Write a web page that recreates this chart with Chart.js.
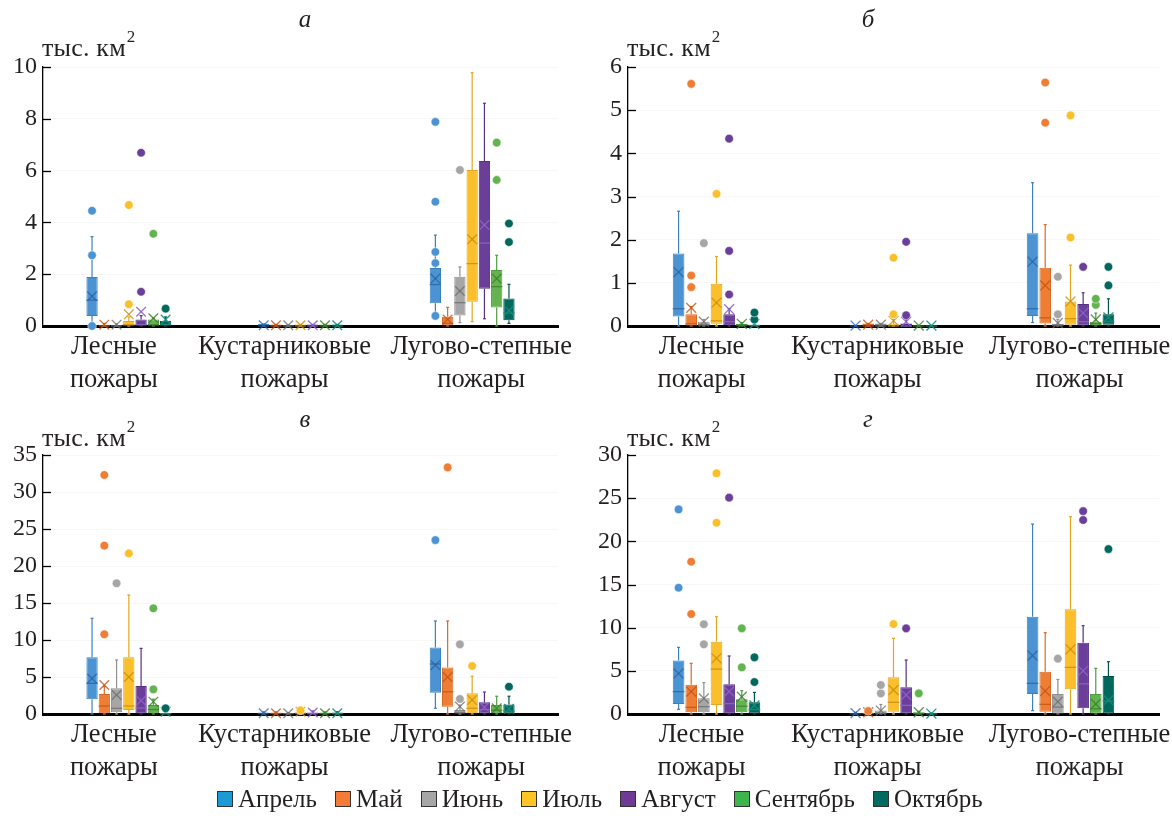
<!DOCTYPE html>
<html><head><meta charset="utf-8">
<script src="https://cdn.jsdelivr.net/npm/chart.js@4.4.1/dist/chart.umd.min.js"></script>
<style>
body{margin:0;background:#fff;width:1172px;height:816px;position:relative;overflow:hidden;font-family:"Liberation Serif","Times New Roman",serif;color:#231f20}
.pan{position:absolute}
.ttl{position:absolute;font-style:italic;font-size:25px;transform:translateX(-50%)}
.unit{position:absolute;font-size:26px;white-space:nowrap;letter-spacing:0.2px}
.unit sup{font-size:17px;vertical-align:top;position:relative;top:-6px;margin-left:1px}
#legend{position:absolute;left:217px;top:785px;display:flex;font-size:25px;white-space:nowrap}
.li{display:flex;align-items:center;margin-right:18px}
.sw{width:16px;height:16px;border:1px solid #333;margin-right:5px;box-sizing:border-box}
</style></head><body>
<div class="pan" style="left:0;top:0"><canvas id="cA" width="586" height="400"></canvas></div>
<div class="pan" style="left:585px;top:0"><canvas id="cB" width="587" height="400"></canvas></div>
<div class="pan" style="left:0;top:390px"><canvas id="cC" width="586" height="400"></canvas></div>
<div class="pan" style="left:585px;top:390px"><canvas id="cD" width="587" height="400"></canvas></div>
<div class="ttl" style="left:305px;top:5px">а</div>
<div class="ttl" style="left:868px;top:5px">б</div>
<div class="ttl" style="left:305px;top:405px">в</div>
<div class="ttl" style="left:868px;top:405px">г</div>
<div class="unit" style="left:42px;top:33px">тыс. км<sup>2</sup></div>
<div class="unit" style="left:627px;top:33px">тыс. км<sup>2</sup></div>
<div class="unit" style="left:42px;top:423px">тыс. км<sup>2</sup></div>
<div class="unit" style="left:627px;top:423px">тыс. км<sup>2</sup></div>
<div id="legend"></div>
<script>
// ---------- data ----------
const months = ['Апрель','Май','Июнь','Июль','Август','Сентябрь','Октябрь'];
const categories = [['Лесные','пожары'],['Кустарниковые','пожары'],['Лугово-степные','пожары']];
const ticksA = [0,2,4,6,8,10];
const ticksB = [0,1,2,3,4,5,6];
const ticksC = [0,5,10,15,20,25,30,35];
const ticksD = [0,5,10,15,20,25,30];

// rows = months, columns = categories
// panel а
const aLow  = [[0,0,0.39],[0,0,0],[0,0,0.13],[0,0,0.17],[0,0,0.28],[0,0,0],[0,0,0.1]];
const aQ1   = [[0.39,0,0.88],[0,0,0.03],[0,0,0.41],[0,0,0.94],[0,0,1.44],[0,0,0.71],[0,0,0.22]];
const aMed  = [[1.0,0,1.6],[0,0,0.1],[0,0,0.9],[0.05,0,2.41],[0.05,0,3.2],[0.05,0,1.52],[0.05,0,0.5]];
const aQ3   = [[1.89,0.08,2.24],[0.05,0.06,0.36],[0.04,0.04,1.9],[0.19,0.06,6.02],[0.25,0.06,6.37],[0.25,0.06,2.16],[0.2,0.06,1.06]];
const aHigh = [[3.45,0.08,3.51],[0.1,0.06,0.72],[0.08,0.04,2.28],[0.35,0.06,9.78],[0.4,0.06,8.6],[0.3,0.06,2.73],[0.35,0.06,1.61]];
const aMean = [[1.15,0.03,1.83],[0.05,0.03,0.25],[0.05,0.03,1.35],[0.45,0.03,3.35],[0.55,0.03,3.9],[0.3,0.03,1.83],[0.25,0.03,0.6]];
const aOut  = [[[0,2.73,4.45],[],[0.39,2.43,2.86,4.8,7.88]],[[],[],[]],[[],[],[6.02]],[[0.84,4.67],[],[]],[[1.32,6.69],[],[]],[[3.56],[],[5.64,7.08]],[[0.67],[],[3.24,3.96]]];
// panel б
const bLow  = [[0,0,0.08],[0,0,0],[0,0,0],[0,0,0],[0,0,0],[0,0,0],[0,0,0]];
const bQ1   = [[0.22,0,0.23],[0,0,0.06],[0,0,0],[0.05,0,0.03],[0.02,0,0],[0,0,0],[0,0,0.03]];
const bMed  = [[0.4,0,0.4],[0.05,0,0.19],[0.03,0,0.02],[0.12,0,0.17],[0.1,0,0.1],[0.02,0,0.05],[0.01,0,0.1]];
const bQ3   = [[1.68,0.01,2.15],[0.27,0.06,1.35],[0.1,0.06,0.05],[0.98,0.04,0.57],[0.27,0.06,0.51],[0.05,0.01,0.1],[0.03,0.01,0.27]];
const bHigh = [[2.66,0.01,3.32],[0.45,0.06,2.35],[0.15,0.06,0.15],[1.61,0.15,1.41],[0.4,0.15,0.77],[0.08,0.01,0.3],[0.25,0.01,0.63]];
const bMean = [[1.25,0.01,1.49],[0.42,0.03,0.94],[0.1,0.03,0.07],[0.54,0.12,0.57],[0.39,0.1,0.3],[0.05,0.01,0.15],[0.05,0.01,0.2]];
const bOut  = [[[],[],[]],[[0.9,1.17,5.61],[],[4.71,5.64]],[[1.92],[],[0.27,1.14]],[[3.06],[0.27,1.58],[2.05,4.88]],[[0.73,1.74,4.34],[0.25,1.95],[1.37]],[[],[],[0.49,0.63]],[[0.15,0.31],[],[0.94,1.37]]];
// panel в
const cLow  = [[0,0,0.77],[0,0,0],[0,0,0],[0,0,0],[0,0,0],[0,0,0],[0,0,0]];
const cQ1   = [[1.98,0,2.88],[0.1,0,0.99],[0.23,0,0],[0.54,0,0.1],[0,0,0],[0.1,0,0.1],[0,0,0]];
const cMed  = [[4.14,0.05,6.76],[1.08,0.05,3.0],[0.77,0.05,0.2],[1.08,0.1,0.77],[0.8,0.05,0.6],[0.6,0.05,0.5],[0.05,0.05,0.4]];
const cQ3   = [[7.66,0.2,9.0],[2.7,0.2,6.3],[3.47,0.15,0.54],[7.66,0.2,2.8],[3.78,0.2,1.58],[1.2,0.2,1.2],[0.1,0.2,1.3]];
const cHigh = [[12.93,0.3,12.57],[3.7,0.3,12.57],[7.3,0.2,1.2],[16.08,0.4,5.1],[8.87,0.4,2.97],[2.0,0.3,2.4],[0.3,0.3,2.4]];
const cMean = [[4.8,0.1,6.6],[3.92,0.1,5.0],[2.57,0.1,1.0],[5.0,0.3,1.9],[1.8,0.2,0.9],[1.67,0.1,0.77],[0.3,0.1,0.7]];
const cOut  = [[[],[],[23.5]],[[10.77,22.75,32.3],[],[33.33]],[[17.66],[],[2.03,9.41]],[[21.7],[0.5],[6.49]],[[],[],[]],[[3.33,14.28],[],[]],[[0.77],[],[3.69]]];
// panel г
const dLow  = [[0.54,0,0.39],[0,0,0],[0,0,0],[0,0,0],[0,0,0],[0,0,0],[0,0,0]];
const dQ1   = [[1.16,0,2.32],[0.19,0,0.27],[0.19,0,0],[1.04,0.27,2.86],[0,0,0.66],[0.19,0,0],[0,0,0]];
const dMed  = [[2.59,0.02,3.55],[0.77,0.05,1.12],[0.85,0.1,0.8],[5.2,1.35,5.4],[1.2,1.0,3.5],[0.9,0.05,0.6],[0.5,0.02,1.5]];
const dQ3   = [[6.2,0.1,11.27],[3.4,0.15,4.9],[1.81,0.4,2.32],[8.38,4.25,12.12],[3.44,3.09,8.26],[1.7,0.2,2.32],[1.35,0.1,4.4]];
const dHigh = [[7.72,0.2,22.0],[5.87,0.3,9.42],[3.63,1.1,4.0],[11.27,8.76,22.86],[6.72,6.25,10.23],[2.7,0.3,5.29],[2.5,0.1,6.06]];
const dMean = [[4.7,0.1,6.76],[2.59,0.2,2.66],[1.8,0.4,1.43],[6.45,2.78,7.49],[2.6,2.2,5.0],[2.0,0.2,1.16],[1.0,0.05,1.6]];
const dOut  = [[[14.63,23.7],[],[]],[[11.58,17.64],[0.35],[]],[[8.07,10.4],[2.39,3.36],[6.41]],[[22.16,27.88],[10.42],[]],[[25.06],[9.92],[22.47,23.5]],[[5.4,9.92],[2.39],[]],[[3.7,6.56],[],[19.1]]];

// ---------- style ----------
const fillC   = ['#4b93d3','#ef7d34','#a6a6a6','#fcbf2c','#6a3e99','#64b351','#00685c'];
const edgeC   = ['#3b80c1','#d96a26','#8f8f8f','#e3a71d','#553085','#4f9c3f','#005247'];
const markC   = ['rgba(40,95,160,0.75)','rgba(190,85,25,0.8)','rgba(110,110,110,0.8)','rgba(200,140,10,0.8)','rgba(140,100,200,0.9)','rgba(60,130,45,0.85)','rgba(20,140,125,0.9)'];
const legendC = ['#1b9ad6','#f47b35','#a6a6a6','#ffc524','#6f3996','#3cb54a','#006b5f'];
const labelShift = [-15,-16,9];   // horizontal nudge of category labels (px), as in the original layout
const TXT = '#231f20';
const FONT = '"Liberation Serif","Times New Roman",serif';
Chart.defaults.font.family = FONT;
Chart.defaults.color = TXT;

function seg(ctx,x1,y1,x2,y2){ctx.beginPath();ctx.moveTo(x1,y1);ctx.lineTo(x2,y2);ctx.stroke();}

function boxPlugin(st){
  return {id:'boxExtras', afterDatasetsDraw(chart){
    const ctx=chart.ctx, ys=chart.scales.y, py=v=>ys.getPixelForValue(v);
    chart.data.datasets.forEach((ds,m)=>{
      chart.getDatasetMeta(m).data.forEach((bar,c)=>{
        const x=bar.x, hw=bar.width/2;
        ctx.save();
        ctx.lineWidth=1.2; ctx.strokeStyle=edgeC[m];
        const hi=py(st.high[m][c]), lo=py(st.low[m][c]);
        seg(ctx,x,py(st.q3[m][c]),x,hi);
        seg(ctx,x,py(st.q1[m][c]),x,lo);
        seg(ctx,x-1.5,hi,x+1.5,hi);
        seg(ctx,x-1.5,lo,x+1.5,lo);
        ctx.strokeStyle=markC[m]; ctx.lineWidth=1.3;
        const md=py(st.med[m][c]);
        seg(ctx,x-hw,md,x+hw,md);
        const my=py(st.mean[m][c]), s=hw*0.85;
        seg(ctx,x-s,my-s,x+s,my+s); seg(ctx,x-s,my+s,x+s,my-s);
        st.out[m][c].forEach(v=>{
          ctx.beginPath(); ctx.arc(x,py(v),4.3,0,Math.PI*2);
          ctx.fillStyle=fillC[m]; ctx.fill();
          ctx.lineWidth=1; ctx.strokeStyle='rgba(255,255,255,0.55)'; ctx.stroke();
        });
        ctx.restore();
      });
    });
  }};
}
const innerTicks = {id:'innerTicks', afterDraw(chart){
  const ctx=chart.ctx, ys=chart.scales.y, L=chart.chartArea.left;
  ctx.save(); ctx.strokeStyle='#000'; ctx.lineWidth=1.3;
  ys.ticks.forEach(t=>{const y=Math.round(ys.getPixelForValue(t.value))+0.5; if(t.value>0) seg(ctx,L,y,L+8,y);});
  ctx.restore();
}};
const catLabels = {id:'catLabels', afterDraw(chart){
  const ctx=chart.ctx, xs=chart.scales.x, B=chart.chartArea.bottom;
  ctx.save(); ctx.fillStyle=TXT; ctx.font='26.5px '+FONT; ctx.textAlign='center'; ctx.textBaseline='middle';
  chart.data.labels.forEach((lines,i)=>{
    const x=xs.getPixelForValue(i)+labelShift[i];
    lines.forEach((t,k)=>ctx.fillText(t,x,B+21+k*33));
  });
  ctx.restore();
}};

function makePanel(id, st, ticks, padTop, padRight, xH){
  const datasets = months.map((mName,m)=>({
    label:mName,
    data: categories.map((_,c)=>[st.q1[m][c], st.q3[m][c]]),
    backgroundColor: fillC[m],
    borderColor: edgeC[m],
    borderWidth: 1,
    borderSkipped: false,
    categoryPercentage: 0.5,
    barPercentage: 0.92
  }));
  new Chart(document.getElementById(id), {
    type:'bar',
    data:{labels:categories, datasets},
    options:{
      responsive:false, animation:false, devicePixelRatio:1,
      layout:{padding:{top:padTop,right:padRight,left:0,bottom:0}},
      plugins:{legend:{display:false}, tooltip:{enabled:false}},
      scales:{
        x:{grid:{display:false,drawTicks:false}, border:{color:'#000',width:3},
           ticks:{display:false},
           afterFit:s=>{s.height=xH;}},
        y:{min:0,max:ticks[ticks.length-1],
           grid:{color:'rgba(0,0,0,0.03)',drawTicks:false},
           border:{color:'#000',width:1.3},
           ticks:{stepSize:ticks[1]-ticks[0],font:{size:24},color:TXT,padding:6},
           afterFit:s=>{s.width=43;}}
      }
    },
    plugins:[boxPlugin(st), innerTicks, catLabels]
  });
}
makePanel('cA',{low:aLow,q1:aQ1,med:aMed,q3:aQ3,high:aHigh,mean:aMean,out:aOut},ticksA,67,28,74);
makePanel('cB',{low:bLow,q1:bQ1,med:bMed,q3:bQ3,high:bHigh,mean:bMean,out:bOut},ticksB,67,13,74);
makePanel('cC',{low:cLow,q1:cQ1,med:cMed,q3:cQ3,high:cHigh,mean:cMean,out:cOut},ticksC,65,28,76);
makePanel('cD',{low:dLow,q1:dQ1,med:dMed,q3:dQ3,high:dHigh,mean:dMean,out:dOut},ticksD,65,13,76);

const lg=document.getElementById('legend');
months.forEach((m,i)=>{
  const d=document.createElement('div'); d.className='li';
  d.innerHTML='<span class="sw" style="background:'+legendC[i]+'"></span><span>'+m+'</span>';
  lg.appendChild(d);
});
</script>
</body></html>
